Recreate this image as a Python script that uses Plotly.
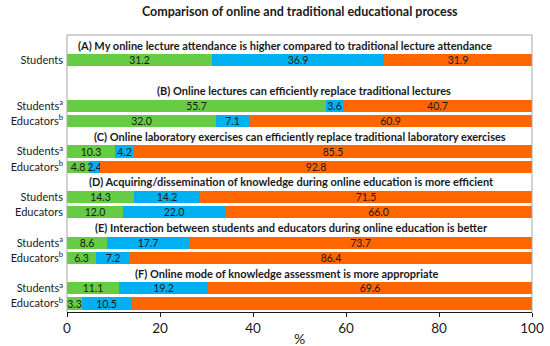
import plotly.graph_objects as go

# ---- data ----
panel_titles = [
    "(A) My online lecture attendance is higher compared to traditional lecture attendance",
    "(B) Online lectures can efficiently replace traditional lectures",
    "(C) Online laboratory exercises can efficiently replace traditional laboratory exercises",
    "(D) Acquiring/dissemination of knowledge during online education is more efficient",
    "(E) Interaction between students and educators during online education is better",
    "(F) Online mode of knowledge assessment is more appropriate",
]
panel_rows = [
    ["Students"],
    ["Students<sup>a</sup>", "Educators<sup>b</sup>"],
    ["Students<sup>a</sup>", "Educators<sup>b</sup>"],
    ["Students", "Educators"],
    ["Students<sup>a</sup>", "Educators<sup>b</sup>"],
    ["Students<sup>a</sup>", "Educators<sup>b</sup>"],
]
green = [31.2, 55.7, 32.0, 10.3, 4.8, 14.3, 12.0, 8.6, 6.3, 11.1, 3.3]
blue = [36.9, 3.6, 7.1, 4.2, 2.4, 14.2, 22.0, 17.7, 7.2, 19.2, 10.5]
orange = [31.9, 40.7, 60.9, 85.5, 92.8, 71.5, 66.0, 73.7, 86.4, 69.6, 86.4]
x_ticks = [0, 20, 40, 60, 80, 100]

# ---- layout helpers ----
title_x = [46.8, 51.0, 50.1, 48.2, 48.3, 47.4]
FONT = "Lato"
row_pos, row_lab, title_pos = [], [], []
for p, rows in enumerate(panel_rows):
    title_pos.append(3 * p)
    for r, lab in enumerate(rows):
        row_pos.append(3 * p + 1 + r)
        row_lab.append(lab)

fig = go.Figure()
for vals, col in [(green, "#66CC44"), (blue, "#00B0F0"), (orange, "#FF6600")]:
    fig.add_trace(go.Bar(
        y=row_pos, x=vals, orientation="h", width=0.8,
        marker=dict(color=col, line=dict(width=0)),
        text=[f"{v:.1f}" for v in vals], textposition="inside",
        insidetextanchor="middle", textangle=0,
        textfont=dict(family=FONT, size=10.5, color="#1a1a1a"),
        hoverinfo="skip", showlegend=False, cliponaxis=False,
    ))

for t, yp, xp in zip(panel_titles, title_pos, title_x):
    fig.add_annotation(x=xp, y=yp, xref="x", yref="y", text=f"<b>{t}</b>",
                       showarrow=False, xanchor="center", yanchor="middle",
                       font=dict(family=FONT, size=11, color="#1a1a1a"))

fig.add_annotation(x=0.5, y=-0.095, xref="paper", yref="paper", text="%",
                   showarrow=False, xanchor="center", yanchor="middle",
                   font=dict(family=FONT, size=14, color="#1a1a1a"))

# frame (top, left, right)
for x0, y0, x1, y1 in [(0, 1, 1, 1), (0, 0, 0, 1), (1, 0, 1, 1)]:
    fig.add_shape(type="line", xref="paper", yref="paper", x0=x0, y0=y0, x1=x1, y1=y1,
                  line=dict(color="#A6A6A6", width=1))

fig.update_layout(
    width=550, height=346, barmode="stack", bargap=0,
    margin=dict(l=67, r=18, t=35, b=34, autoexpand=False),
    paper_bgcolor="white", plot_bgcolor="white",
    uniformtext=dict(minsize=10.5, mode="show"),
    title=dict(text="<b>Comparison of online and traditional educational process</b>",
               x=0.545, xanchor="center", y=1 - 12 / 346, yanchor="middle",
               font=dict(family=FONT, size=12.5, color="#1a1a1a")),
    xaxis=dict(range=[0, 100], tickvals=x_ticks, ticks="outside", ticklen=4,
               tickcolor="#1a1a1a", showline=True, linecolor="#1a1a1a", linewidth=1,
               showgrid=False, zeroline=False, automargin=False,
               tickfont=dict(family=FONT, size=13.5, color="#1a1a1a")),
    yaxis=dict(range=[17.56, -0.66], tickvals=row_pos, ticktext=row_lab,
               showgrid=False, zeroline=False, ticks="", ticklabelstandoff=3,
               automargin=False,
               tickfont=dict(family=FONT, size=11, color="#1a1a1a")),
)

fig.write_html("out.html", config={"displayModeBar": False},
               post_script="document.body.style.margin='0';document.body.style.overflow='hidden';")
